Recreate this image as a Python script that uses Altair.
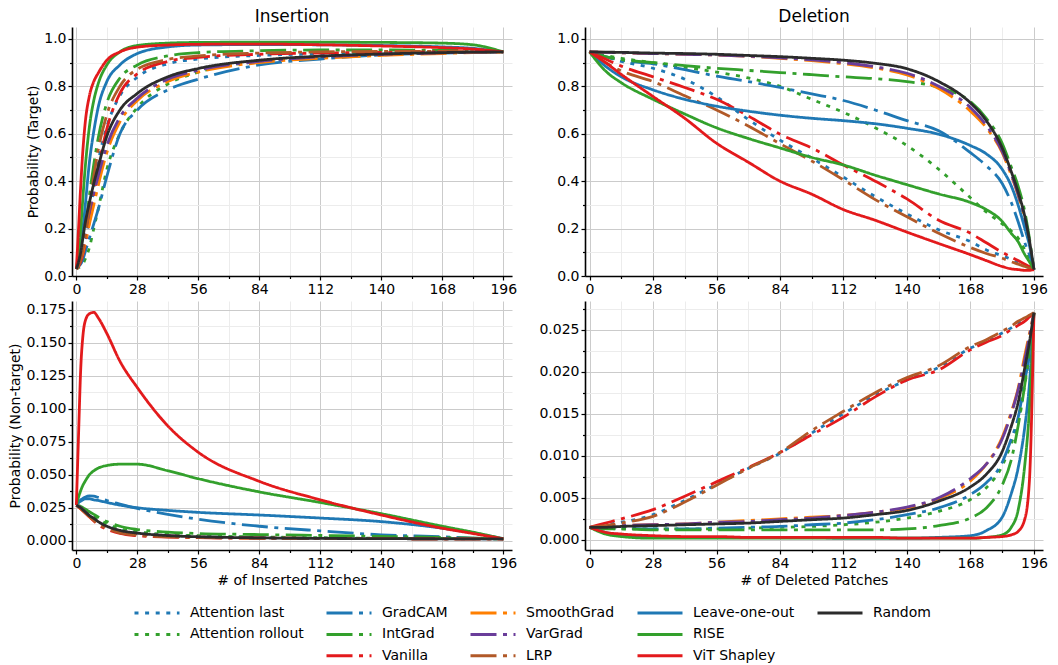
import altair as alt
import pandas as pd

FONT = "DejaVu Sans"

# ---------------- data ----------------
X_INS = [0, 1, 2, 3, 4, 6, 8, 10, 14, 20, 28, 42, 56, 84, 112, 140, 168, 182, 196]
X_DEL = [0, 7, 14, 28, 42, 56, 70, 84, 98, 112, 126, 140, 154, 168, 175, 182, 186, 189, 192, 194, 196]

METHODS = ["Attention last", "Attention rollout", "GradCAM", "IntGrad", "Vanilla",
           "SmoothGrad", "VarGrad", "LRP", "Leave-one-out", "RISE", "ViT Shapley", "Random"]

INS_TARGET = {
    "Attention last":    [0.03, 0.04, 0.06, 0.10, 0.14, 0.25, 0.37, 0.48, 0.63, 0.76, 0.838, 0.895, 0.915, 0.93, 0.937, 0.94, 0.943, 0.944, 0.945],
    "Attention rollout": [0.03, 0.035, 0.04, 0.05, 0.07, 0.12, 0.20, 0.28, 0.45, 0.60, 0.71, 0.81, 0.86, 0.905, 0.925, 0.937, 0.942, 0.944, 0.945],
    "GradCAM":           [0.03, 0.04, 0.05, 0.07, 0.10, 0.16, 0.22, 0.28, 0.42, 0.60, 0.70, 0.785, 0.83, 0.89, 0.915, 0.932, 0.94, 0.943, 0.945],
    "IntGrad":           [0.03, 0.05, 0.08, 0.13, 0.19, 0.34, 0.47, 0.58, 0.73, 0.835, 0.89, 0.928, 0.942, 0.95, 0.953, 0.953, 0.952, 0.95, 0.945],
    "Vanilla":           [0.03, 0.04, 0.06, 0.09, 0.13, 0.23, 0.34, 0.45, 0.62, 0.77, 0.853, 0.905, 0.922, 0.935, 0.94, 0.943, 0.945, 0.945, 0.945],
    "SmoothGrad":        [0.03, 0.045, 0.07, 0.10, 0.14, 0.22, 0.30, 0.38, 0.52, 0.65, 0.74, 0.82, 0.86, 0.90, 0.918, 0.93, 0.938, 0.942, 0.945],
    "VarGrad":           [0.03, 0.05, 0.08, 0.13, 0.18, 0.27, 0.35, 0.42, 0.55, 0.67, 0.75, 0.83, 0.868, 0.905, 0.924, 0.935, 0.941, 0.944, 0.945],
    "LRP":               [0.03, 0.045, 0.07, 0.11, 0.16, 0.29, 0.42, 0.53, 0.68, 0.80, 0.872, 0.913, 0.928, 0.94, 0.945, 0.947, 0.947, 0.946, 0.945],
    "Leave-one-out":     [0.03, 0.07, 0.12, 0.20, 0.29, 0.48, 0.61, 0.71, 0.82, 0.89, 0.938, 0.966, 0.974, 0.976, 0.975, 0.972, 0.966, 0.96, 0.945],
    "RISE":              [0.03, 0.10, 0.20, 0.33, 0.45, 0.63, 0.74, 0.81, 0.89, 0.945, 0.972, 0.982, 0.985, 0.986, 0.986, 0.985, 0.982, 0.975, 0.945],
    "ViT Shapley":       [0.03, 0.20, 0.38, 0.53, 0.64, 0.76, 0.82, 0.855, 0.91, 0.945, 0.965, 0.974, 0.977, 0.978, 0.975, 0.97, 0.963, 0.957, 0.945],
    "Random":            [0.03, 0.06, 0.10, 0.16, 0.22, 0.31, 0.39, 0.46, 0.59, 0.70, 0.77, 0.84, 0.875, 0.91, 0.927, 0.936, 0.942, 0.944, 0.945],
}

INS_NONTARGET = {
    "Attention last":    [0.027, 0.0262, 0.0252, 0.024, 0.0228, 0.0198, 0.0175, 0.015, 0.0115, 0.0082, 0.006, 0.0042, 0.0033, 0.0025, 0.002, 0.0017, 0.0016, 0.0015, 0.0015],
    "Attention rollout": [0.027, 0.0265, 0.0258, 0.0248, 0.0238, 0.0212, 0.019, 0.0165, 0.0128, 0.0092, 0.0068, 0.0048, 0.0038, 0.0029, 0.0023, 0.0019, 0.0017, 0.0016, 0.0015],
    "GradCAM":           [0.027, 0.029, 0.031, 0.032, 0.033, 0.034, 0.0338, 0.0328, 0.0305, 0.0278, 0.0245, 0.020, 0.0163, 0.011, 0.0075, 0.0045, 0.003, 0.002, 0.0015],
    "IntGrad":           [0.027, 0.0265, 0.026, 0.025, 0.024, 0.022, 0.020, 0.018, 0.0145, 0.011, 0.0085, 0.0065, 0.0055, 0.0047, 0.004, 0.0033, 0.0025, 0.002, 0.0015],
    "Vanilla":           [0.027, 0.0255, 0.024, 0.0225, 0.021, 0.018, 0.015, 0.012, 0.0088, 0.0055, 0.0038, 0.0028, 0.0023, 0.0019, 0.0017, 0.0016, 0.0015, 0.0015, 0.0015],
    "SmoothGrad":        [0.027, 0.026, 0.0245, 0.023, 0.0215, 0.0185, 0.016, 0.0135, 0.0102, 0.0072, 0.0052, 0.0036, 0.0028, 0.0021, 0.0018, 0.0016, 0.0015, 0.0015, 0.0015],
    "VarGrad":           [0.027, 0.026, 0.025, 0.0235, 0.022, 0.019, 0.0165, 0.014, 0.0106, 0.0075, 0.0055, 0.0038, 0.0029, 0.0022, 0.0018, 0.0016, 0.0015, 0.0015, 0.0015],
    "LRP":               [0.027, 0.0258, 0.0245, 0.023, 0.0215, 0.0185, 0.0155, 0.0128, 0.0095, 0.006, 0.0042, 0.003, 0.0025, 0.002, 0.0018, 0.0016, 0.0015, 0.0015, 0.0015],
    "Leave-one-out":     [0.027, 0.029, 0.030, 0.031, 0.0318, 0.0318, 0.031, 0.0305, 0.029, 0.027, 0.025, 0.023, 0.0215, 0.0195, 0.0172, 0.0145, 0.0095, 0.006, 0.0015],
    "RISE":              [0.027, 0.033, 0.038, 0.042, 0.045, 0.050, 0.053, 0.055, 0.057, 0.058, 0.058, 0.053, 0.047, 0.037, 0.029, 0.0205, 0.011, 0.0065, 0.0015],
    "ViT Shapley":       [0.027, 0.08, 0.13, 0.155, 0.166, 0.172, 0.173, 0.169, 0.157, 0.136, 0.116, 0.087, 0.067, 0.045, 0.031, 0.0195, 0.0095, 0.0055, 0.0015],
    "Random":            [0.027, 0.026, 0.025, 0.0235, 0.022, 0.019, 0.017, 0.0145, 0.011, 0.0078, 0.0058, 0.0039, 0.003, 0.0022, 0.0018, 0.0016, 0.0015, 0.0015, 0.0015],
}

DEL_TARGET = {
    "Attention last":    [0.945, 0.925, 0.905, 0.876, 0.83, 0.756, 0.66, 0.573, 0.497, 0.417, 0.335, 0.262, 0.195, 0.145, 0.11, 0.085, 0.07, 0.055, 0.045, 0.036, 0.027],
    "Attention rollout": [0.945, 0.93, 0.918, 0.90, 0.88, 0.86, 0.835, 0.80, 0.745, 0.69, 0.625, 0.55, 0.45, 0.33, 0.27, 0.22, 0.19, 0.16, 0.11, 0.075, 0.027],
    "GradCAM":           [0.945, 0.925, 0.91, 0.895, 0.87, 0.843, 0.82, 0.795, 0.768, 0.74, 0.70, 0.655, 0.612, 0.52, 0.465, 0.39, 0.31, 0.23, 0.14, 0.09, 0.027],
    "IntGrad":           [0.945, 0.925, 0.912, 0.90, 0.887, 0.876, 0.867, 0.858, 0.849, 0.84, 0.832, 0.82, 0.795, 0.735, 0.665, 0.56, 0.46, 0.38, 0.27, 0.16, 0.027],
    "Vanilla":           [0.945, 0.915, 0.885, 0.84, 0.795, 0.745, 0.675, 0.598, 0.54, 0.468, 0.40, 0.325, 0.235, 0.18, 0.14, 0.10, 0.08, 0.065, 0.05, 0.04, 0.027],
    "SmoothGrad":        [0.945, 0.943, 0.941, 0.938, 0.935, 0.932, 0.926, 0.918, 0.908, 0.895, 0.877, 0.848, 0.79, 0.695, 0.625, 0.52, 0.425, 0.34, 0.235, 0.14, 0.027],
    "VarGrad":           [0.945, 0.943, 0.941, 0.938, 0.935, 0.932, 0.927, 0.92, 0.911, 0.90, 0.882, 0.855, 0.80, 0.71, 0.635, 0.525, 0.43, 0.345, 0.24, 0.145, 0.027],
    "LRP":               [0.945, 0.90, 0.865, 0.82, 0.76, 0.70, 0.633, 0.558, 0.485, 0.405, 0.322, 0.25, 0.18, 0.12, 0.095, 0.075, 0.06, 0.05, 0.04, 0.033, 0.027],
    "Leave-one-out":     [0.945, 0.885, 0.84, 0.785, 0.745, 0.716, 0.695, 0.678, 0.665, 0.655, 0.642, 0.623, 0.598, 0.55, 0.515, 0.45, 0.38, 0.30, 0.20, 0.13, 0.027],
    "RISE":              [0.945, 0.865, 0.815, 0.745, 0.683, 0.625, 0.58, 0.54, 0.50, 0.468, 0.425, 0.385, 0.346, 0.31, 0.28, 0.23, 0.18, 0.145, 0.09, 0.06, 0.027],
    "ViT Shapley":       [0.945, 0.90, 0.85, 0.757, 0.665, 0.56, 0.48, 0.40, 0.345, 0.28, 0.235, 0.185, 0.137, 0.09, 0.065, 0.04, 0.03, 0.027, 0.024, 0.024, 0.027],
    "Random":            [0.945, 0.944, 0.943, 0.94, 0.938, 0.935, 0.93, 0.925, 0.918, 0.91, 0.897, 0.874, 0.82, 0.73, 0.655, 0.54, 0.44, 0.355, 0.25, 0.15, 0.027],
}

DEL_NONTARGET = {
    "Attention last":    [0.0015, 0.0018, 0.0021, 0.003, 0.0047, 0.0066, 0.0085, 0.0103, 0.0127, 0.015, 0.0172, 0.019, 0.0205, 0.0228, 0.0236, 0.0246, 0.0252, 0.0258, 0.0263, 0.0266, 0.027],
    "Attention rollout": [0.0015, 0.0014, 0.0013, 0.0013, 0.0013, 0.0013, 0.0014, 0.0015, 0.0016, 0.0018, 0.0021, 0.0026, 0.0034, 0.0048, 0.0062, 0.0088, 0.0115, 0.014, 0.0185, 0.022, 0.027],
    "GradCAM":           [0.0015, 0.0014, 0.0014, 0.0013, 0.0013, 0.0014, 0.0015, 0.0016, 0.0018, 0.002, 0.0024, 0.003, 0.0038, 0.0054, 0.0068, 0.0092, 0.012, 0.0145, 0.019, 0.022, 0.027],
    "IntGrad":           [0.0015, 0.0013, 0.0013, 0.0012, 0.0012, 0.0012, 0.0012, 0.0012, 0.0012, 0.0012, 0.0012, 0.0013, 0.0017, 0.0026, 0.0038, 0.0065, 0.0095, 0.0135, 0.0185, 0.0225, 0.027],
    "Vanilla":           [0.0015, 0.002, 0.0025, 0.0036, 0.0052, 0.0069, 0.0086, 0.0104, 0.0125, 0.0146, 0.017, 0.019, 0.0202, 0.0226, 0.0235, 0.0243, 0.025, 0.0255, 0.026, 0.0265, 0.027],
    "SmoothGrad":        [0.0015, 0.0016, 0.0017, 0.0018, 0.0019, 0.0021, 0.0023, 0.0025, 0.0027, 0.0029, 0.0033, 0.0038, 0.0049, 0.007, 0.009, 0.0122, 0.0152, 0.018, 0.022, 0.0245, 0.027],
    "VarGrad":           [0.0015, 0.0016, 0.0017, 0.0018, 0.0019, 0.0021, 0.0022, 0.0024, 0.0026, 0.0029, 0.0033, 0.0039, 0.005, 0.0073, 0.009, 0.012, 0.015, 0.0178, 0.0215, 0.0242, 0.027],
    "LRP":               [0.0015, 0.0017, 0.002, 0.0028, 0.0045, 0.0065, 0.0085, 0.0104, 0.013, 0.0153, 0.0175, 0.0193, 0.0207, 0.023, 0.0238, 0.0248, 0.0254, 0.026, 0.0264, 0.0267, 0.027],
    "Leave-one-out":     [0.0015, 0.0009, 0.0006, 0.0004, 0.0003, 0.0003, 0.0003, 0.0003, 0.0003, 0.0002, 0.0002, 0.0002, 0.0003, 0.0005, 0.0011, 0.0027, 0.0055, 0.0085, 0.0135, 0.0185, 0.027],
    "RISE":              [0.0015, 0.0007, 0.0004, 0.0002, 0.0002, 0.0002, 0.0002, 0.0002, 0.0002, 0.0002, 0.0002, 0.0002, 0.0002, 0.0002, 0.0003, 0.0006, 0.0015, 0.0035, 0.009, 0.0155, 0.027],
    "ViT Shapley":       [0.0015, 0.0009, 0.0007, 0.0005, 0.0004, 0.0004, 0.0003, 0.0003, 0.0003, 0.0003, 0.0003, 0.0002, 0.0002, 0.0002, 0.0003, 0.0004, 0.0006, 0.001, 0.0025, 0.007, 0.027],
    "Random":            [0.0015, 0.0015, 0.0016, 0.0017, 0.0018, 0.0019, 0.002, 0.0022, 0.0024, 0.0026, 0.003, 0.0035, 0.0046, 0.0063, 0.0078, 0.0105, 0.0135, 0.0163, 0.0205, 0.0235, 0.027],
}

# tick positions (major + minor)
X_TICKS = [0, 14, 28, 42, 56, 70, 84, 98, 112, 126, 140, 154, 168, 182, 196]
Y_TICKS_TARGET = [0.0, 0.1, 0.2, 0.3, 0.4, 0.5, 0.6, 0.7, 0.8, 0.9, 1.0]
Y_TICKS_INS_NT = [0.0, 0.0125, 0.025, 0.0375, 0.05, 0.0625, 0.075, 0.0875, 0.1, 0.1125, 0.125, 0.1375, 0.15, 0.1625, 0.175]
Y_TICKS_DEL_NT = [0.0, 0.0025, 0.005, 0.0075, 0.01, 0.0125, 0.015, 0.0175, 0.02, 0.0225, 0.025, 0.0275]

# legend order (column by column, 3 rows, two blank slots)
LEGEND_ORDER = ["Attention last", "Attention rollout", " ",
                "GradCAM", "IntGrad", "Vanilla",
                "SmoothGrad", "VarGrad", "LRP",
                "Leave-one-out", "RISE", "ViT Shapley",
                "Random", "  "]

BLUE, GREEN, RED, ORANGE, PURPLE, BROWN, BLACK = "#1f78b4", "#33a02c", "#e31a1c", "#ff7f00", "#6a3d9a", "#b15928", "#2b2b2b"
COLORS = {
    "Attention last": BLUE, "Attention rollout": GREEN, "GradCAM": BLUE, "IntGrad": GREEN,
    "Vanilla": RED, "SmoothGrad": ORANGE, "VarGrad": PURPLE, "LRP": BROWN,
    "Leave-one-out": BLUE, "RISE": GREEN, "ViT Shapley": RED, "Random": BLACK,
    " ": "rgba(0,0,0,0)", "  ": "rgba(0,0,0,0)",
}
DOT = [4, 6.6]
DASHDOT = [26, 6.5, 4, 6.5]
SOLID = [1, 0]
DASHES = {
    "Attention last": DOT, "Attention rollout": DOT, "GradCAM": DASHDOT, "IntGrad": DASHDOT,
    "Vanilla": DASHDOT, "SmoothGrad": DASHDOT, "VarGrad": DASHDOT, "LRP": DASHDOT,
    "Leave-one-out": SOLID, "RISE": SOLID, "ViT Shapley": SOLID, "Random": SOLID,
    " ": SOLID, "  ": SOLID,
}

LW = 2.8
MAJOR_GRID = "#cbcbcb"
MINOR_GRID = "#ececec"
W_LEFT, W_RIGHT, H = 440, 458, 249


def long_table(xs, table):
    return pd.DataFrame([{"method": m, "x": x, "y": v}
                         for m in METHODS for x, v in zip(xs, table[m])])


def cond(test, yes, no):
    return {"condition": {"test": test, "value": yes}, "value": no}


color_scale = alt.Scale(domain=LEGEND_ORDER, range=[COLORS[m] for m in LEGEND_ORDER])
dash_scale = alt.Scale(domain=LEGEND_ORDER, range=[DASHES[m] for m in LEGEND_ORDER])
LEGEND = alt.Legend(orient="none", legendX=61, legendY=579, columns=5, title=None,
                    symbolType="stroke", symbolSize=2025, symbolStrokeWidth=3,
                    clipHeight=14, labelFont=FONT, labelFontSize=14, labelColor="#000",
                    labelOffset=9, columnPadding=21, rowPadding=7.4, padding=0,
                    gridAlign="each", labelLimit=0)


def panel(xs, table, width, ydom, yticks, ymul, yfmt, ytitle, xtitle, title):
    xmajor = "datum.value % 28 === 0"
    ymajor = f"abs(datum.value * {ymul} - round(datum.value * {ymul})) < 1e-6"
    xaxis = alt.Axis(values=X_TICKS, format="d", title=xtitle,
                     labelExpr=f"{xmajor} ? datum.label : ''",
                     gridColor=cond(xmajor, MAJOR_GRID, MINOR_GRID),
                     tickSize=cond(xmajor, 4, 2.5),
                     labelFlush=False, labelOverlap=False)
    yaxis = alt.Axis(values=yticks, format=yfmt, title=ytitle,
                     labelExpr=f"{ymajor} ? datum.label : ''",
                     gridColor=cond(ymajor, MAJOR_GRID, MINOR_GRID),
                     tickSize=cond(ymajor, 4, 2.5),
                     labelFlush=False, labelOverlap=False)
    ch = alt.Chart(long_table(xs, table)).mark_line(
        interpolate="monotone", strokeWidth=LW
    ).encode(
        x=alt.X("x:Q", scale=alt.Scale(domain=[-2, 200], nice=False, zero=False), axis=xaxis),
        y=alt.Y("y:Q", scale=alt.Scale(domain=ydom, nice=False, zero=False), axis=yaxis),
        color=alt.Color("method:N", scale=color_scale, legend=LEGEND),
        strokeDash=alt.StrokeDash("method:N", scale=dash_scale, legend=LEGEND),
    )
    props = dict(width=width, height=H)
    if title:
        props["title"] = alt.TitleParams(text=title, font=FONT, fontSize=17,
                                         fontWeight="normal", color="#000", offset=1)
    return ch.properties(**props)


tl = panel(X_INS, INS_TARGET, W_LEFT, [0, 1.05], Y_TICKS_TARGET, 5, ".1f",
           "Probability (Target)", None, "Insertion")
tr = panel(X_DEL, DEL_TARGET, W_RIGHT, [0, 1.05], Y_TICKS_TARGET, 5, ".1f",
           None, None, "Deletion")
bl = panel(X_INS, INS_NONTARGET, W_LEFT, [-0.007, 0.1816], Y_TICKS_INS_NT, 40, ".3f",
           "Probability (Non-target)", "# of Inserted Patches", None)
br = panel(X_DEL, DEL_NONTARGET, W_RIGHT, [-0.0012, 0.0284], Y_TICKS_DEL_NT, 200, ".3f",
           None, "# of Deleted Patches", None)

chart = alt.concat(
    tl, tr, bl, br, columns=2, spacing={"row": 25, "column": 73}, bounds="flush"
).properties(
    padding={"left": 8, "top": 8, "right": 5, "bottom": 5}
).configure(font=FONT).configure_view(strokeWidth=0).configure_axis(
    domainColor="#000", domainWidth=1.6, tickColor="#000", tickWidth=1.2,
    labelFont=FONT, labelFontSize=14, labelColor="#000", labelPadding=2,
    titleFont=FONT, titleFontSize=14, titleFontWeight="normal", titleColor="#000",
    titlePadding=3, gridWidth=1
)

chart.save("out.html", embed_options={"renderer": "svg", "actions": False})
